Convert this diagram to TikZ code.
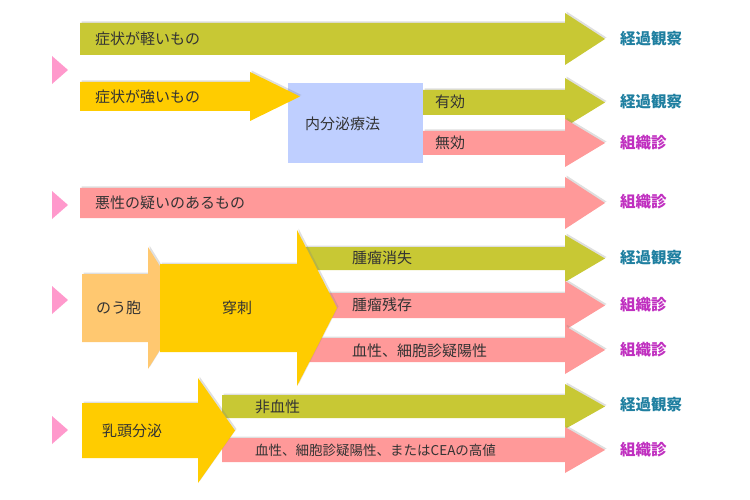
\documentclass[tikz,border=0pt]{standalone}
\usepackage{fontspec}
\setmainfont{Noto Sans CJK JP}
\usetikzlibrary{shadows}
\definecolor{olv}{HTML}{C8C834}
\definecolor{ylw}{HTML}{FFCC00}
\definecolor{org}{HTML}{FFC870}
\definecolor{pnk}{HTML}{FF9999}
\definecolor{blu}{HTML}{BFCFFF}
\definecolor{tea}{HTML}{1F7FA0}
\definecolor{mag}{HTML}{C030C0}
\definecolor{txt}{HTML}{333333}
\tikzset{
 arr/.style={draw=none,drop shadow={shadow xshift=1.5pt,shadow yshift=1.5pt,opacity=0.25}},
 lab/.style={anchor=west,text=txt,font=\fontsize{15}{15}\selectfont,inner sep=0},
 obs/.style={anchor=west,text=tea,font=\fontsize{15.5}{15}\selectfont\bfseries,inner sep=0},
 bio/.style={anchor=west,text=mag,font=\fontsize{15.5}{15}\selectfont\bfseries,inner sep=0},
 tri/.style={fill=pink!80!magenta,draw=none}
}
\newcommand\myarrow[7]{%
 \fill[#1,arr] (#2,#3) -- (#5,#3) -- (#5,#3-#7) -- (#6,{(#3+#4)/2}) -- (#5,#4+#7) -- (#5,#4) -- (#2,#4) -- cycle;}
\begin{document}
\begin{tikzpicture}[x=1pt,y=-1pt]
\useasboundingbox (0,0) rectangle (750,500);
\foreach \y in {70,205,300,430} \fill[tri] (52,\y-14) -- (68,\y) -- (52,\y+14) -- cycle;
% row 1
\myarrow{olv}{80}{23}{55}{565}{605}{10}
\node[lab] (a1) at (95,39) {症状が軽いもの};
\node[obs] (r1) at (620,39) {経過観察};
% row 2
\fill[blu] (288,83) rectangle (423,163);
\node[lab] (bx) at (305,124) {内分泌療法};
\myarrow{ylw}{80}{82}{111}{250}{300}{10}
\node[lab] (a2) at (95,97) {症状が強いもの};
\myarrow{olv}{423}{90}{115}{565}{605}{12}
\node[lab] (e1) at (435,102) {有効};
\node[obs] (r2) at (620,102) {経過観察};
\myarrow{pnk}{423}{131}{155}{565}{605}{12}
\node[lab] (e2) at (435,143) {無効};
\node[bio] (r3) at (620,143) {組織診};
% row 3
\myarrow{pnk}{80}{188}{218}{565}{605}{11}
\node[lab] (a3) at (95,203) {悪性の疑いのあるもの};
\node[bio] (r4) at (620,202) {組織診};
% cyst
\myarrow{olv}{305}{247}{270}{565}{605}{12}
\myarrow{pnk}{305}{293}{318}{565}{605}{12}
\myarrow{pnk}{305}{338}{362}{565}{605}{12}
\myarrow{org}{82}{274}{342}{148}{186}{27}
\myarrow{ylw}{160}{264}{352}{297}{337}{34}
\node[lab] (c1) at (96,308) {のう胞};
\node[lab] (c2) at (222,308) {穿刺};
\node[lab] (d1) at (352,258) {腫瘤消失};
\node[lab] (d2) at (352,305) {腫瘤残存};
\node[lab] (d3) at (352,351) {血性、細胞診疑陽性};
\node[obs] (r5) at (620,258) {経過観察};
\node[bio] (r6) at (620,305) {組織診};
\node[bio] (r7) at (620,350) {組織診};
% nipple
\myarrow{olv}{222}{395}{418}{565}{605}{11}
\myarrow{pnk}{222}{438}{462}{565}{605}{11}
\myarrow{ylw}{82}{403}{458}{198}{235}{25}
\node[lab] (n1) at (102,431) {乳頭分泌};
\node[lab] (f1) at (255,407) {非血性};
\node[lab,font=\fontsize{13.5}{13}\selectfont] (f2) at (255,450) {血性、細胞診疑陽性、またはCEAの高値};
\node[obs] (r8) at (620,405) {経過観察};
\node[bio] (r9) at (620,450) {組織診};
\end{tikzpicture}
\end{document}
